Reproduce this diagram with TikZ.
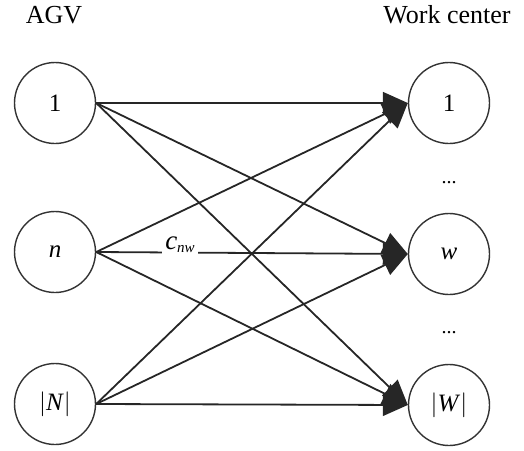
\documentclass[tikz,border=0pt]{standalone}
\usepackage{fontspec}
\setmainfont{Liberation Serif}
\usetikzlibrary{arrows.meta}
\begin{document}
\begin{tikzpicture}[x=1pt,y=-1pt,
  vertex/.style={circle,draw=black!80,line width=1.4pt,minimum size=81pt,inner sep=0pt,
    font=\fontsize{25}{30}\selectfont},
  heading/.style={font=\fontsize{26}{30}\selectfont,inner sep=0pt},
  link/.style={draw=black!85,line width=1.8pt,-{Triangle[length=25pt,width=22pt]}},
  dotsmark/.style={font=\fontsize{20}{24}\selectfont,inner sep=0pt}]
  \useasboundingbox (0,0) rectangle (524,450);
  % agents
  \node[vertex] (a1) at (55,103) {1};
  \node[vertex] (an) at (55,252) {\textit{n}};
  \node[vertex] (aN) at (55,404) {$|$\textit{N}$|$};
  % work centers
  \node[vertex] (w1) at (449,103) {1};
  \node[vertex] (ww) at (449,254) {\textit{w}};
  \node[vertex] (wW) at (449,405) {$|$\textit{W}$|$};
  % headings and ellipses
  \node[heading] (tA) at (54,15) {AGV};
  \node[heading] (tW) at (447,15) {Work center};
  \node[dotsmark] (d1) at (449,183) {...};
  \node[dotsmark] (d2) at (449,333) {...};
  % assignment arcs
  \foreach \s in {a1,an,aN}
    \foreach \t in {w1,ww,wW}
      \draw[link] (\s.east) -- (\t.west);
  % cost label, interrupting the n -> w arc
  \node[fill=white,inner xsep=3pt,inner ysep=0pt,minimum height=22pt,font=\fontsize{27}{30}\selectfont] (lbl) at (180,245)
    {\textit{c}\raisebox{-3pt}{\fontsize{15}{16}\selectfont\textit{nw}}};
\end{tikzpicture}
\end{document}
